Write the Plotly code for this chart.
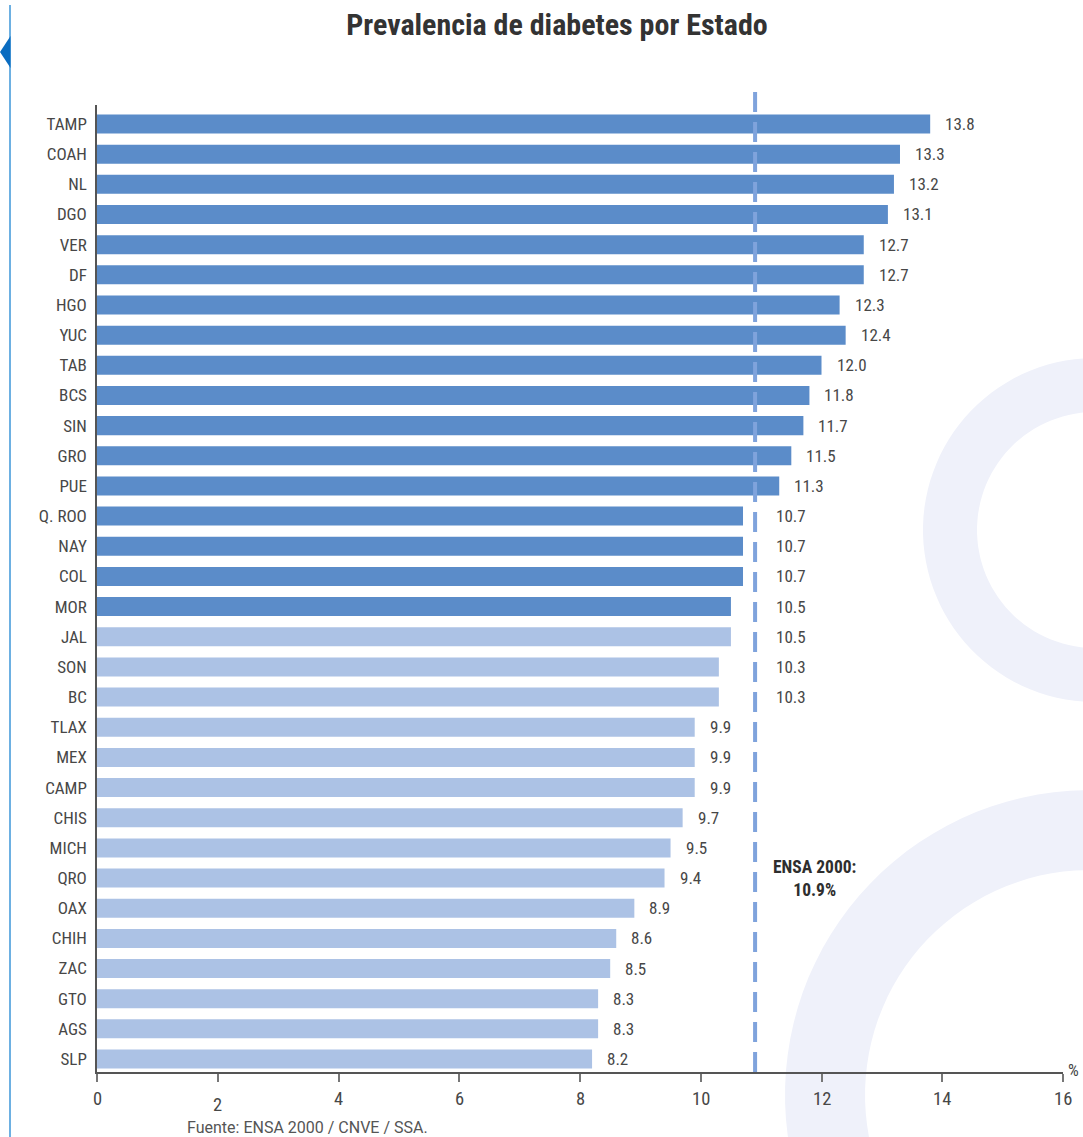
import numpy as np
import plotly.graph_objects as go

# Prevalencia de diabetes (%) por entidad federativa
estados = ["TAMP", "COAH", "NL", "DGO", "VER", "DF", "HGO", "YUC", "TAB", "BCS",
           "SIN", "GRO", "PUE", "Q. ROO", "NAY", "COL", "MOR", "JAL", "SON", "BC",
           "TLAX", "MEX", "CAMP", "CHIS", "MICH", "QRO", "OAX", "CHIH", "ZAC",
           "GTO", "AGS", "SLP"]
prevalencia = [13.8, 13.3, 13.2, 13.1, 12.7, 12.7, 12.3, 12.4, 12.0, 11.8,
               11.7, 11.5, 11.3, 10.7, 10.7, 10.7, 10.5, 10.5, 10.3, 10.3,
               9.9, 9.9, 9.9, 9.7, 9.5, 9.4, 8.9, 8.6, 8.5, 8.3, 8.3, 8.2]
# Estados resaltados (grupo superior)
grupo_alto = ["TAMP", "COAH", "NL", "DGO", "VER", "DF", "HGO", "YUC", "TAB", "BCS",
              "SIN", "GRO", "PUE", "Q. ROO", "NAY", "COL", "MOR"]
ensa_nacional = 10.9
ticks_x = [0, 2, 4, 6, 8, 10, 12, 14, 16]

FONT = "Liberation Sans Narrow, Roboto Condensed, Arial Narrow, sans-serif"
FONT_NOTA = "Roboto, Liberation Sans, Arial, sans-serif"
TXT = "#474747"
AZUL_OSCURO = "#5b8cc9"
AZUL_CLARO = "#acc2e5"
LINEA = "#7fa3dc"
FONDO_LOGO = "#eff1fa"

W, H = 1083, 1137
L, R, T, B = 97, 20, 105, 65
PW, PH = W - L - R, H - T - B


def px(x):
    return (x - L) / PW


def py(y):
    return (H - B - y) / PH


colores = [AZUL_OSCURO if e in grupo_alto else AZUL_CLARO for e in estados]

fig = go.Figure()
fig.add_trace(go.Bar(
    y=estados, x=prevalencia, orientation="h",
    marker=dict(color=colores, line=dict(width=0)),
    width=0.63, hoverinfo="x+y",
))


# Logotipo de fondo (anillos tenues)
def anillo(cx, cy, r_out, r_in, n=120):
    t = np.linspace(0, 2 * np.pi, n)
    ox, oy = cx + r_out * np.cos(t), cy + r_out * np.sin(t)
    ix, iy = cx + r_in * np.cos(t[::-1]), cy + r_in * np.sin(t[::-1])
    p = "M " + " L ".join(f"{px(a):.4f},{py(b):.4f}" for a, b in zip(ox, oy)) + " Z "
    p += "M " + " L ".join(f"{px(a):.4f},{py(b):.4f}" for a, b in zip(ix, iy)) + " Z"
    return p


shapes = []
for cx, cy, ro, ri in [(1095, 530, 172, 118), (1090, 1095, 305, 225)]:
    shapes.append(dict(type="path", xref="paper", yref="paper", path=anillo(cx, cy, ro, ri),
                       fillcolor=FONDO_LOGO, line=dict(width=0), layer="below"))

# Línea de referencia nacional
shapes.append(dict(type="line", xref="x", yref="paper", x0=ensa_nacional, x1=ensa_nacional,
                   y0=0, y1=py(92), line=dict(color=LINEA, width=4, dash="20px,10px"),
                   layer="above"))

# Filete lateral y marcador
shapes.append(dict(type="line", xref="paper", yref="paper", x0=px(10), x1=px(10),
                   y0=py(5), y1=py(H + 5), line=dict(color="#3c96d9", width=1.5)))
shapes.append(dict(type="path", xref="paper", yref="paper",
                   path=f"M {px(10.5)},{py(36)} L {px(0)},{py(52)} L {px(10.5)},{py(68)} Z",
                   fillcolor="#0a6cc0", line=dict(width=0)))

annotations = []
for e, v in zip(estados, prevalencia):
    xa = 11.0 if ensa_nacional - 0.7 < v < ensa_nacional else v
    annotations.append(dict(x=xa, y=e, xref="x", yref="y", text=f"{v:.1f}",
                            showarrow=False, xanchor="left", yanchor="middle", xshift=13,
                            font=dict(family=FONT, size=17, color=TXT)))

for t in ticks_x:
    annotations.append(dict(x=t, y=0, xref="x", yref="paper", text=str(t), showarrow=False,
                            xanchor="center", yanchor="top", yshift=-14 if t != 2 else -20,
                            font=dict(family=FONT, size=18.5, color=TXT)))

annotations.append(dict(x=16, y=0, xref="x", yref="paper", text="%", showarrow=False,
                        xanchor="left", yanchor="bottom", xshift=3, yshift=-10,
                        font=dict(family=FONT, size=17, color=TXT)))
annotations.append(dict(x=11.88, y="QRO", xref="x", yref="y",
                        text="<b>ENSA 2000:</b><br><b>10.9%</b>", showarrow=False,
                        xanchor="center", yanchor="middle", align="center",
                        font=dict(family=FONT, size=17.5, color="#2e2e2e")))
annotations.append(dict(x=px(185), y=py(1127), xref="paper", yref="paper",
                        text="Fuente: ENSA 2000 / CNVE / SSA.", showarrow=False,
                        xanchor="left", yanchor="middle",
                        font=dict(family=FONT_NOTA, size=16, color="#555555")))

fig.update_layout(
    width=W, height=H,
    margin=dict(l=L, r=R, t=T, b=B, pad=0),
    paper_bgcolor="white", plot_bgcolor="rgba(0,0,0,0)",
    title=dict(text="<b>Prevalencia de diabetes por Estado</b>", x=px(557), xref="paper",
               xanchor="center", y=1 - 24 / H, yanchor="middle",
               font=dict(family=FONT, size=30, color="#333333")),
    showlegend=False,
    bargap=0.37,
    xaxis=dict(range=[0, 16], tickvals=ticks_x, showticklabels=False, ticks="outside",
               ticklen=8, tickcolor="#777777", tickwidth=1.5, showgrid=False, zeroline=False,
               showline=True, linecolor="#555555", linewidth=1.5, fixedrange=True),
    yaxis=dict(type="category", range=[31.43, -0.63], showgrid=False, zeroline=False,
               showline=True, linecolor="#555555", linewidth=1.5, ticks="",
               ticklabelstandoff=5, tickfont=dict(family=FONT, size=17, color=TXT),
               fixedrange=True),
    shapes=shapes, annotations=annotations,
)

fig.write_html("out.html")
